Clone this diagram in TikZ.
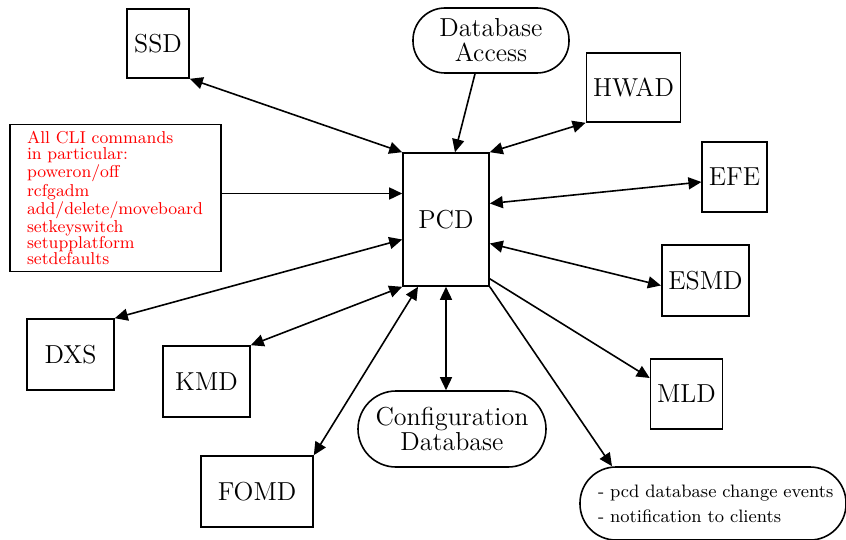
\documentclass[tikz,border=0pt]{standalone}
\usepackage{tikz}
\usetikzlibrary{arrows.meta,calc}

\begin{document}
\begin{tikzpicture}[x=0.5pt,y=-0.5pt,line width=0.8pt,
    >={Triangle[length=6.5pt,width=6pt]},
    box/.style={draw,minimum width=#1,minimum height=35pt,font=\fontsize{13}{11}\selectfont},
    box/.default=30pt,
    pill/.style={draw,rounded corners=#1,align=center,font=\fontsize{13}{12.5}\selectfont}]
      \useasboundingbox (0,0) rectangle (846,540);
      \node[box=43pt,minimum height=66.5pt] (pcd) at (446,219.5) {PCD};
      \node[box=31pt,minimum height=34.5pt] (ssd) at (158,43.5) {SSD};
      \node[pill=16pt,minimum width=78pt,minimum height=32.5pt,inner ysep=1pt] (dba) at (491,40.5) {Database\\Access};
      \node[box=33.5pt,minimum height=34.5pt] (hwad) at (633.5,87.5) {HWAD};
      \node[box=29.5pt] (efe) at (734.5,177) {EFE};
      \node[box=42.5pt,minimum height=35.5pt] (esmd) at (705.5,280.5) {ESMD};
      \node[box=29.5pt] (mld) at (686.5,394) {MLD};
      \node[box=43.5pt,minimum height=35.5pt] (dxs) at (70.5,354.5) {DXS};
      \node[box=43.5pt,minimum height=35.5pt] (kmd) at (206.5,381.5) {KMD};
      \node[box=56pt,minimum height=35.5pt] (fomd) at (257,491.5) {FOMD};
      \node[pill=19pt,minimum width=94pt,minimum height=38pt,inner ysep=1pt] (cfg) at (452,429) {Configuration\\Database};
      \node[pill=18pt,minimum height=36.5pt,text width=125pt,inner xsep=4pt,align=left,
            font=\fontsize{9}{12.5}\selectfont] (note) at (713,503.5)
            {\hspace*{5pt}- pcd database change events\\\hspace*{5pt}- notification to clients};
      \node[draw,minimum height=72pt,text width=88.5pt,inner xsep=8.5pt,align=left,text=red,
            font=\fontsize{8.6}{8}\selectfont] (cli) at (115.5,198)
            {All CLI commands\\in particular:\\poweron/off\\rcfgadm\\add/delete/moveboard\\setkeyswitch\\setupplatform\\setdefaults};
      \coordinate (clin) at ([yshift=13pt]pcd.west);
      \draw[<->] (ssd.south east) -- (pcd.north west);
      \draw[->] ([xshift=-8pt]dba.south) -- ([xshift=4.5pt]pcd.north);
      \draw[<->] (hwad.south west) -- (pcd.north east);
      \draw[<->] ([yshift=-2.5pt]efe.west) -- ([yshift=8pt]pcd.east);
      \draw[<->] ([yshift=-2.5pt]esmd.west) -- ([yshift=-12pt]pcd.east);
      \draw[->] ([yshift=4pt]pcd.south east) -- ([yshift=8pt]mld.west);
      \draw[->] (pcd.south east) -- ($(note.north)+(-101,0)$);
      \draw[<->] (pcd.south) -- (pcd.south |- cfg.north);
      \draw[<->] ([xshift=-14pt]pcd.south) -- (fomd.north east);
      \draw[<->] (pcd.south west) -- (kmd.north east);
      \draw[<->] ([yshift=-10pt]pcd.west) -- (dxs.north east);
      \draw[->] (cli.east |- clin) -- (clin);
    \end{tikzpicture}
\end{document}
